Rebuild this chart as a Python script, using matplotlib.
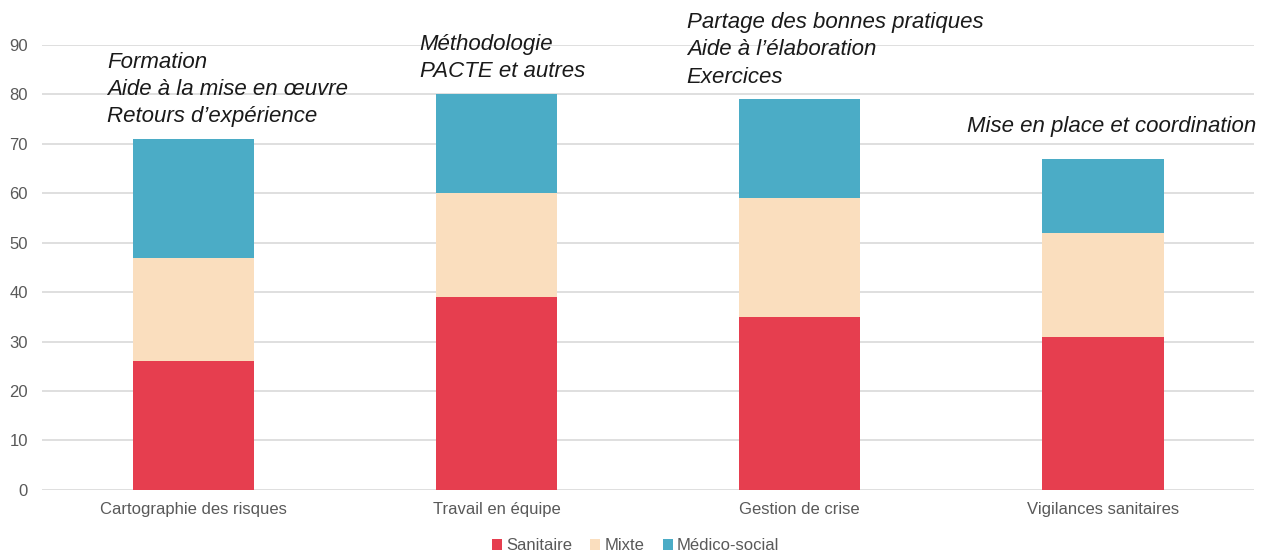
import matplotlib
matplotlib.use("Agg")
import matplotlib.pyplot as plt
import numpy as np

plt.rcParams['font.family'] = ['Liberation Sans', 'DejaVu Sans']

categories = ['Cartographie des risques', 'Travail en équipe', 'Gestion de crise', 'Vigilances sanitaires']
sanitaire = [26, 39, 35, 31]
mixte = [21, 21, 24, 21]
medico_social = [24, 20, 20, 15]
series_names = ['Sanitaire', 'Mixte', 'Médico-social']
colors = ['#E63E4F', '#FADEBE', '#4BACC6']

# texte au-dessus des barres
annotations = [
    'Formation\nAide à la mise en œuvre\nRetours d’expérience',
    'Méthodologie\nPACTE et autres',
    'Partage des bonnes pratiques\nAide à l’élaboration\nExercices',
    'Mise en place et coordination',
]
annot_x = [-0.286, 0.746, 1.627, 2.55]
annot_y = [81.0, 87.4, 89.0, 73.6]

fig = plt.figure(figsize=(12.71, 5.56), dpi=100)
ax = fig.add_axes([0.033, 0.119, 0.954, 0.8])

x = np.arange(len(categories))
width = 0.40
bottom = np.zeros(len(categories))
for name, vals, c in zip(series_names, [sanitaire, mixte, medico_social], colors):
    ax.bar(x, vals, width, bottom=bottom, color=c, label=name, zorder=3)
    bottom += np.array(vals)

for txt, tx, ty in zip(annotations, annot_x, annot_y):
    ax.text(tx, ty, txt, fontsize=16, style='italic', color='#1a1a1a',
            ha='left', va='center', linespacing=1.38, clip_on=False, zorder=5)

ax.set_xlim(-0.5, 3.5)
ax.set_ylim(0, 90)
ax.set_yticks(range(0, 91, 10))
ax.set_xticks(x)
ax.set_xticklabels(categories)
ax.tick_params(axis='both', length=0, labelsize=12, colors='#595959')
ax.tick_params(axis='x', pad=9)
ax.tick_params(axis='y', pad=10)
ax.grid(axis='y', color='#D9D9D9', linewidth=1.2, zorder=0)
for s in ax.spines.values():
    s.set_visible(False)

fig.legend(loc='lower center', ncol=3, frameon=False, fontsize=12,
           handlelength=0.6, handleheight=0.6, handletextpad=0.25,
           columnspacing=1.1, bbox_to_anchor=(0.5, -0.022), labelcolor='#595959')

fig.savefig('out.png', dpi=100)
